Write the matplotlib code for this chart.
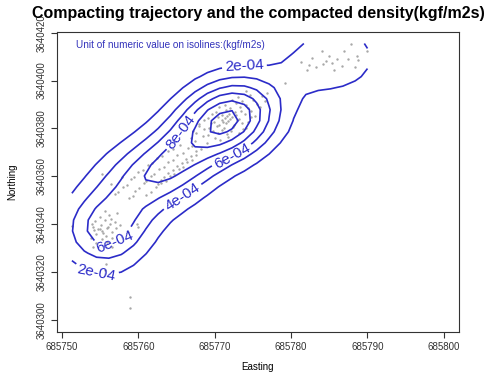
import numpy as np
import matplotlib
matplotlib.use("Agg")
import matplotlib.pyplot as plt

plt.rcParams['font.family'] = ['Liberation Sans', 'DejaVu Sans']

# compaction points (Easting, Northing in m), by cluster
ne_pts = [(685787.9, 3640415.5), (685784.1, 3640412.2), (685786.9, 3640412.5), (685784.9, 3640410.4),
          (685781.3, 3640407.6), (685782.4, 3640406.7), (685783.3, 3640405.6), (685784.2, 3640406.9),
          (685784.6, 3640408.0), (685785.3, 3640407.2), (685786.0, 3640409.0), (685786.6, 3640406.3),
          (685787.5, 3640409.0), (685788.6, 3640410.4), (685788.8, 3640408.6), (685788.4, 3640405.8),
          (685782.1, 3640404.4), (685790.0, 3640412.5), (685782.8, 3640409.5), (685785.6, 3640404.6),
          (685779.2, 3640398.9)]

core_pts = [(685767.4, 3640374.8), (685769.0, 3640374.1), (685770.7, 3640375.0),
            (685766.9, 3640376.0), (685768.5, 3640376.7), (685770.1, 3640375.9), (685771.8, 3640376.5),
            (685767.6, 3640378.3), (685769.1, 3640377.4), (685770.4, 3640378.1), (685771.6, 3640377.6),
            (685773.2, 3640378.2), (685767.2, 3640379.0), (685768.6, 3640379.7), (685769.8, 3640378.9),
            (685770.9, 3640379.5), (685772.1, 3640379.1), (685773.7, 3640379.8), (685768.0, 3640380.9),
            (685769.3, 3640380.3), (685770.3, 3640381.0), (685771.2, 3640380.4), (685772.4, 3640380.8),
            (685774.1, 3640380.2), (685767.9, 3640381.7), (685769.5, 3640382.3), (685770.6, 3640381.5),
            (685771.5, 3640382.1), (685772.5, 3640381.6), (685773.6, 3640382.4), (685768.6, 3640383.4),
            (685769.9, 3640382.9), (685770.9, 3640383.6), (685771.8, 3640383.0), (685772.9, 3640383.5),
            (685774.3, 3640382.8), (685769.1, 3640384.2), (685770.4, 3640384.9), (685771.3, 3640384.3),
            (685772.2, 3640384.7), (685773.2, 3640384.1), (685774.8, 3640384.6), (685769.6, 3640386.1),
            (685770.9, 3640385.5), (685771.9, 3640386.2), (685772.8, 3640385.6), (685774.0, 3640386.0),
            (685775.3, 3640385.4), (685770.2, 3640387.0), (685771.5, 3640387.6), (685772.6, 3640386.9),
            (685773.5, 3640387.5), (685774.7, 3640387.1), (685770.6, 3640388.9), (685772.0, 3640388.4),
            (685773.3, 3640389.0), (685774.4, 3640388.5), (685775.9, 3640388.8), (685771.3, 3640390.0),
            (685772.8, 3640390.6), (685774.1, 3640389.9), (685775.5, 3640390.4), (685772.2, 3640392.1),
            (685773.6, 3640391.5), (685775.0, 3640392.0), (685776.6, 3640391.6), (685773.0, 3640393.3),
            (685774.6, 3640393.9), (685776.2, 3640393.4), (685774.1, 3640395.5), (685776.8, 3640395.0),
            (685771.1, 3640382.7), (685772.0, 3640384.0), (685771.6, 3640385.3)]

band_pts = [(685758.8, 3640350.9), (685757.0, 3640352.5), (685759.3, 3640351.9),
            (685761.0, 3640352.4), (685757.4, 3640353.5), (685759.6, 3640354.1), (685761.6, 3640353.6),
            (685758.0, 3640355.6), (685760.1, 3640355.0), (685762.3, 3640355.5), (685758.5, 3640356.6),
            (685760.7, 3640357.2), (685762.6, 3640356.7), (685763.0, 3640357.1), (685759.0, 3640358.7),
            (685761.0, 3640358.1), (685762.9, 3640358.6), (685763.6, 3640358.2), (685759.4, 3640359.6),
            (685761.6, 3640360.2), (685763.4, 3640359.7), (685764.2, 3640360.1), (685760.0, 3640361.7),
            (685762.1, 3640361.1), (685763.9, 3640361.6), (685764.7, 3640361.2), (685760.6, 3640362.5),
            (685762.7, 3640363.1), (685764.5, 3640362.6), (685765.3, 3640363.0), (685761.2, 3640364.6),
            (685763.3, 3640364.0), (685765.1, 3640364.5), (685765.9, 3640364.1), (685761.8, 3640365.5),
            (685763.9, 3640366.1), (685765.7, 3640365.6), (685766.4, 3640366.0), (685762.4, 3640367.5),
            (685764.5, 3640366.9), (685766.3, 3640367.4), (685767.0, 3640367.0), (685763.1, 3640368.4),
            (685765.1, 3640369.0), (685766.9, 3640368.5), (685767.6, 3640368.9), (685763.9, 3640370.5),
            (685765.8, 3640369.9), (685767.5, 3640370.4), (685764.6, 3640371.4), (685766.5, 3640372.0),
            (685768.2, 3640371.5), (685765.4, 3640373.3), (685767.0, 3640372.8), (685755.2, 3640361.1),
            (685757.8, 3640359.7), (685760.0, 3640338.9), (685756.4, 3640356.8)]

sw_pts = [(685755.6, 3640345.4), (685757.2, 3640344.6), (685756.1, 3640343.7),
          (685755.0, 3640342.9), (685756.4, 3640342.3), (685754.3, 3640341.4), (685755.6, 3640341.6),
          (685756.9, 3640341.0), (685753.9, 3640340.1), (685755.1, 3640339.5),
          (685756.3, 3640340.0), (685757.6, 3640339.7), (685751.3, 3640339.2), (685754.0, 3640339.0),
          (685754.7, 3640338.1), (685755.9, 3640338.6), (685757.1, 3640338.3),
          (685754.2, 3640337.4), (685755.2, 3640337.2), (685756.5, 3640336.8),
          (685754.5, 3640335.9), (685755.8, 3640335.3), (685753.8, 3640334.2), (685755.2, 3640333.8),
          (685756.6, 3640334.1), (685754.4, 3640332.0), (685755.9, 3640332.5), (685754.1, 3640330.7),
          (685756.6, 3640330.3), (685758.6, 3640336.6), (685759.8, 3640340.3), (685755.4, 3640336.5),
          (685756.0, 3640339.0), (685755.0, 3640338.0)]

stray_pts = [(685755.8, 3640323.6), (685755.6, 3640320.8), (685758.9, 3640309.7), (685758.9, 3640304.9)]

iso_levels = [2e-4, 4e-4, 6e-4, 8e-4, 1e-3, 1.2e-3]
kern_east, kern_north = 3.7, 10.0   # kernel sd (m)

pts = np.array(ne_pts + core_pts + band_pts + sw_pts + stray_pts)
east, north = pts[:, 0], pts[:, 1]

# kernel density on a 25 x 25 grid over the data range (like MASS::kde2d)
gx = np.linspace(east.min(), east.max(), 25)
gy = np.linspace(north.min(), north.max(), 25)
kx = np.exp(-0.5 * ((gx[:, None] - east) / kern_east) ** 2) / (np.sqrt(2 * np.pi) * kern_east)
ky = np.exp(-0.5 * ((gy[:, None] - north) / kern_north) ** 2) / (np.sqrt(2 * np.pi) * kern_north)
dens = ky @ kx.T / len(east)

fig = plt.figure(figsize=(4.84, 3.74), dpi=100)
ax = fig.add_axes([0.1178, 0.1123, 0.8302, 0.8021])

ax.set_xlim(685749.35, 685801.96)
ax.set_ylim(3640295, 3640420.3)

ax.scatter(east, north, s=3, color='#a8a8a8', linewidths=0, zorder=1)
cs = ax.contour(gx, gy, dens, levels=iso_levels, colors='#2b2bc8', linewidths=1.2, zorder=2)

fmt = {lv: ('%.0e' % lv if lv < 9e-4 else '%g' % lv) for lv in cs.levels}
label_at = [(2e-4, 685774.0, 3640401.3), (2e-4, 685754.6, 3640323.0),
            (4e-4, 685765.0, 3640357.5), (6e-4, 685772.0, 3640370.0),
            (6e-4, 685756.6, 3640333.0), (8e-4, 685765.6, 3640375.0)]
# snap every wanted label spot onto its own isoline, then let clabel cut the line there
spots = []
for lev, x0, y0 in label_at:
    i = int(np.argmin(np.abs(np.array(cs.levels) - lev)))
    verts = cs.get_paths()[i].vertices
    if len(verts) == 0:
        continue
    d = ax.transData.transform(verts) - ax.transData.transform((x0, y0))
    spots.append(tuple(verts[np.argmin((d ** 2).sum(axis=1))]))
ax.clabel(cs, manual=spots, fmt=fmt, fontsize=11, inline=True, inline_spacing=3)

ax.set_xticks(range(685750, 685801, 10))
ax.set_yticks(range(3640300, 3640421, 20))
ax.ticklabel_format(useOffset=False, style='plain')
ax.tick_params(labelsize=7, length=4, width=0.8, colors='#333333', labelcolor='#333333')
for lab in ax.get_yticklabels():
    lab.set_rotation(90)
    lab.set_va('center')
for sp in ax.spines.values():
    sp.set_color('#333333')
    sp.set_linewidth(0.8)

ax.set_xlabel('Easting', fontsize=7, labelpad=7)
ax.set_ylabel('Northing', fontsize=7, labelpad=14)
ax.set_title('Compacting trajectory and the compacted density(kgf/m2s)',
             fontsize=11.5, fontweight='bold', pad=10)
ax.text(0.047, 0.975, 'Unit of numeric value on isolines:(kgf/m2s)', transform=ax.transAxes,
        fontsize=7.2, color='#3333bb', va='top')

fig.savefig('out.png', dpi=100)
